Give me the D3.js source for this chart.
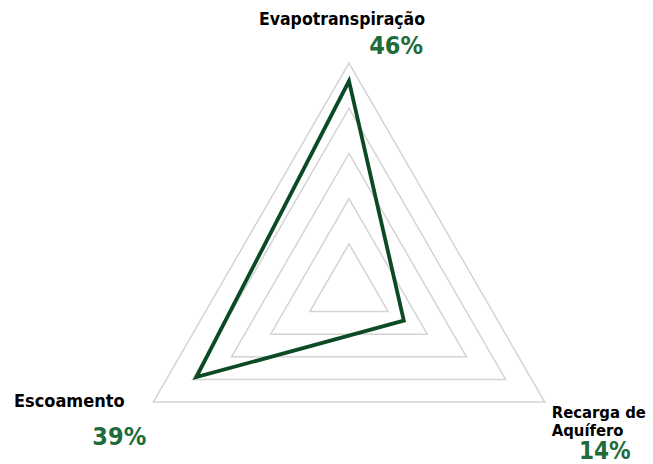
<!DOCTYPE html>
<html>
<head>
<meta charset="utf-8">
<script src="https://cdn.jsdelivr.net/npm/d3@7"></script>
<style>
  body { margin: 0; background: #fff; }
</style>
</head>
<body>
<div id="chart"></div>
<script>
// data
const categories = ["Evapotranspiração", "Recarga de Aquífero", "Escoamento"];
const values = [46, 14, 39];
const ticks = [10, 20, 30, 40, 50];

const width = 653, height = 464;
const cx = 349, cy = 289, radius = 226;

const svg = d3.select("#chart")
    .append("svg")
    .attr("width", width)
    .attr("height", height)
    .attr("font-family", "'DejaVu Sans Condensed', 'DejaVu Sans', sans-serif");

const g = svg.append("g")
    .attr("transform", `translate(${cx},${cy})`);

const r = d3.scaleLinear()
    .domain([0, d3.max(ticks)])
    .range([0, radius]);

// angle per axis, clockwise from top
const ang = (i) => i * 2 * Math.PI / categories.length;

const radial = d3.lineRadial()
    .angle((d, i) => ang(i))
    .radius(d => r(d))
    .curve(d3.curveLinearClosed);

// grid triangles
g.append("g")
    .selectAll("path")
    .data(ticks)
    .enter().append("path")
    .attr("d", t => radial(categories.map(() => t)))
    .attr("fill", "none")
    .attr("stroke", "#d4d4d4")
    .attr("stroke-width", 1.5);

// data line
g.append("path")
    .attr("d", radial(values))
    .attr("fill", "none")
    .attr("stroke", "#0c4a26")
    .attr("stroke-width", 3.8)
    .attr("stroke-linejoin", "miter");

// labels
const pt = (i, v) => {
    const a = ang(i) - Math.PI / 2;
    return [Math.cos(a) * r(v), Math.sin(a) * r(v)];
};

const pTop = pt(0, 50), pBR = pt(1, 50), pBL = pt(2, 50);

const labels = g.append("g").attr("font-weight", "bold");

// Evapotranspiração
labels.append("text")
    .attr("x", pTop[0] - 7).attr("y", pTop[1] - 38)
    .attr("text-anchor", "middle")
    .attr("font-size", 17.5)
    .attr("fill", "#000")
    .text(categories[0]);
labels.append("text")
    .attr("x", pTop[0] + 74).attr("y", pTop[1] - 9)
    .attr("text-anchor", "end")
    .attr("font-size", 25)
    .attr("fill", "#1e6b3c")
    .text(values[0] + "%");

// Recarga de Aquífero
const rec = labels.append("text")
    .attr("x", pBR[0] + 7).attr("y", pBR[1] + 16)
    .attr("font-size", 16.5)
    .attr("fill", "#000");
rec.append("tspan").text("Recarga de");
rec.append("tspan").attr("x", pBR[0] + 7).attr("dy", 17.5).text("Aquífero");
labels.append("text")
    .attr("x", pBR[0] + 60).attr("y", pBR[1] + 56.5)
    .attr("text-anchor", "middle")
    .attr("font-size", 24)
    .attr("fill", "#1e6b3c")
    .text(values[1] + "%");

// Escoamento
labels.append("text")
    .attr("x", pBL[0] - 84).attr("y", pBL[1] + 5)
    .attr("text-anchor", "middle")
    .attr("font-size", 18)
    .attr("fill", "#000")
    .text(categories[2]);
labels.append("text")
    .attr("x", pBL[0] - 34).attr("y", pBL[1] + 43)
    .attr("text-anchor", "middle")
    .attr("font-size", 25)
    .attr("fill", "#1e6b3c")
    .text(values[2] + "%");
</script>
</body>
</html>
